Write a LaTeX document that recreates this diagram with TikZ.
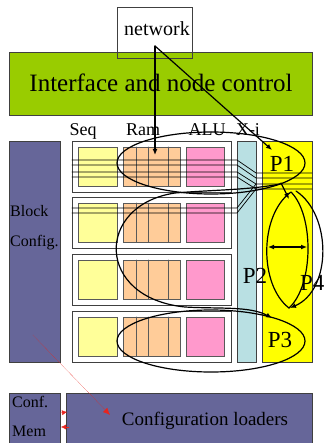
\documentclass[tikz,border=0pt]{standalone}
\usepackage{fontspec}
\setmainfont{Liberation Serif}
\usetikzlibrary{arrows.meta,positioning,calc}
\definecolor{leaf}{HTML}{99CC00}
\definecolor{slate}{HTML}{666699}
\definecolor{cream}{HTML}{FFFF99}
\definecolor{peach}{HTML}{FFCC99}
\definecolor{rose}{HTML}{FF99CC}
\definecolor{aqua}{HTML}{B9E0E3}
\definecolor{lemon}{HTML}{FFFF00}
\definecolor{rojo}{HTML}{E8251E}

\begin{document}
\begin{tikzpicture}[x=1pt,y=-1pt,>={Latex[length=6pt,width=5pt]},line cap=round,
    box/.style={draw=black!75,line width=0.7pt},
    cell/.style={draw=black!65,line width=0.8pt},
    flow/.style={line width=1.2pt},
    hd/.style={anchor=base,inner sep=0pt,font=\fontsize{18}{18}\selectfont},
    side/.style={anchor=base west,inner sep=0pt,font=\fontsize{16}{16}\selectfont},
    proc/.style={anchor=base,inner sep=0pt,font=\fontsize{23}{23}\selectfont}]
  \useasboundingbox (0,0) rectangle (324,443);
  % control y red
  \node[box,fill=leaf,minimum width=303pt,minimum height=63pt] (ctrl) at (161,83.5) {};
  \node[anchor=base,inner sep=0pt,font=\fontsize{25}{25}\selectfont] (ctrltxt) at (161,92)
        {Interface and node control};
  \node[box,minimum width=75pt,minimum height=51pt] (net) at (154.5,32.5) {};
  \node[anchor=base,inner sep=0pt,font=\fontsize{20}{20}\selectfont] (nettxt) at (157,36) {network};
  % configuracion de bloques
  \node[box,fill=slate,minimum width=51pt,minimum height=221pt] (blk) at (34.5,251.5) {};
  \node[side] (blk1) at (10,216) {Block};
  \node[side] (blk2) at (10,246) {Config.};
  % cabeceras
  \node[hd] (seq) at (83,136) {Seq};
  \node[hd] (ram) at (143,136) {Ram};
  \node[hd] (alu) at (207,136) {ALU};
  \node[hd] (xi) at (248,136) {X-i};
  % filas
  \foreach \t in {141,197,254,311}{
    \draw[box,fill=white] (72,\t) rectangle (231,\t+51);
    \draw[cell,fill=cream] (78,\t+6) rectangle (117,\t+45);
    \draw[cell,fill=peach] (123,\t+6) rectangle (180,\t+45);
    \foreach \x in {136,148,168}
      \draw[cell] (\x,\t+6) -- (\x,\t+45);
    \draw[cell,fill=rose] (186,\t+6) rectangle (224,\t+45);
  }
  % columnas
  \node[box,fill=aqua,minimum width=19pt,minimum height=221pt] (xcol) at (246.5,251.5) {};
  \node[box,fill=lemon,minimum width=50pt,minimum height=221pt] (pcol) at (287,251.5) {};
  % bus
  \foreach \a/\b in {160/173,165/178,172/184,177/189}
    \draw[line width=0.7pt] (72,\a) -- (237,\a) -- (256,\b) -- (312,\b);
  \foreach \a/\b in {208/184,213/189}
    \draw[line width=0.7pt] (72,\a) -- (237,\a) -- (256,\b);
  % procesos
  \draw[flow] (211,163) ellipse (94 and 31);
  \draw[flow] (211,341) ellipse (94 and 31);
  \draw[flow,->] (281,183) -- (289,199);
  \draw[flow,->] (280,184) .. controls (250,190) and (210,190) .. (175,193)
        .. controls (95,205) and (95,298) .. (185,307)
        .. controls (220,309) and (250,306) .. (272,318);
  \draw[flow] (291,192) .. controls (259,215) and (259,285) .. (289,308)
        .. controls (314,285) and (314,215) .. (291,192);
  \draw[flow,<->] (268,247) -- (307,247);
  \draw[flow,->] (296,191) .. controls (332,215) and (332,290) .. (290,308);
  % red
  \coordinate (src) at (155,46);
  \draw[flow,->] (src) -- (155,155);
  \draw[flow,->] (src) -- (272,150);
  \node[proc] (p1) at (282,172) {P1};
  \node[proc] (p2) at (255,283) {P2};
  \node[proc,anchor=base west] (p4) at (300,290) {P4};
  \node[proc] (p3) at (280,347) {P3};
  % cargadores
  \node[box,fill=slate,minimum width=51pt,minimum height=56pt] (mem) at (34.5,421) {};
  \node[side] (mem1) at (12,407) {Conf.};
  \node[side] (mem2) at (12,436) {Mem};
  \node[box,fill=slate,minimum width=246pt,minimum height=56pt] (load) at (189,421) {};
  \node[anchor=base,inner sep=0pt,font=\fontsize{19}{19}\selectfont] (loadtxt) at (205,425)
        {Configuration loaders};
  \coordinate (cfg) at (33,335);
  \coordinate (ld) at (110,415);
  \draw[rojo,densely dotted,-{Latex[length=7pt,width=6pt]}] (cfg) -- (ld);
  \draw[rojo,-{Latex[length=5pt,width=5pt]}] (60,413) -- (67,412);
  \draw[rojo,-{Latex[length=5pt,width=5pt]}] (69,427) -- (61,427);
\end{tikzpicture}
\end{document}
